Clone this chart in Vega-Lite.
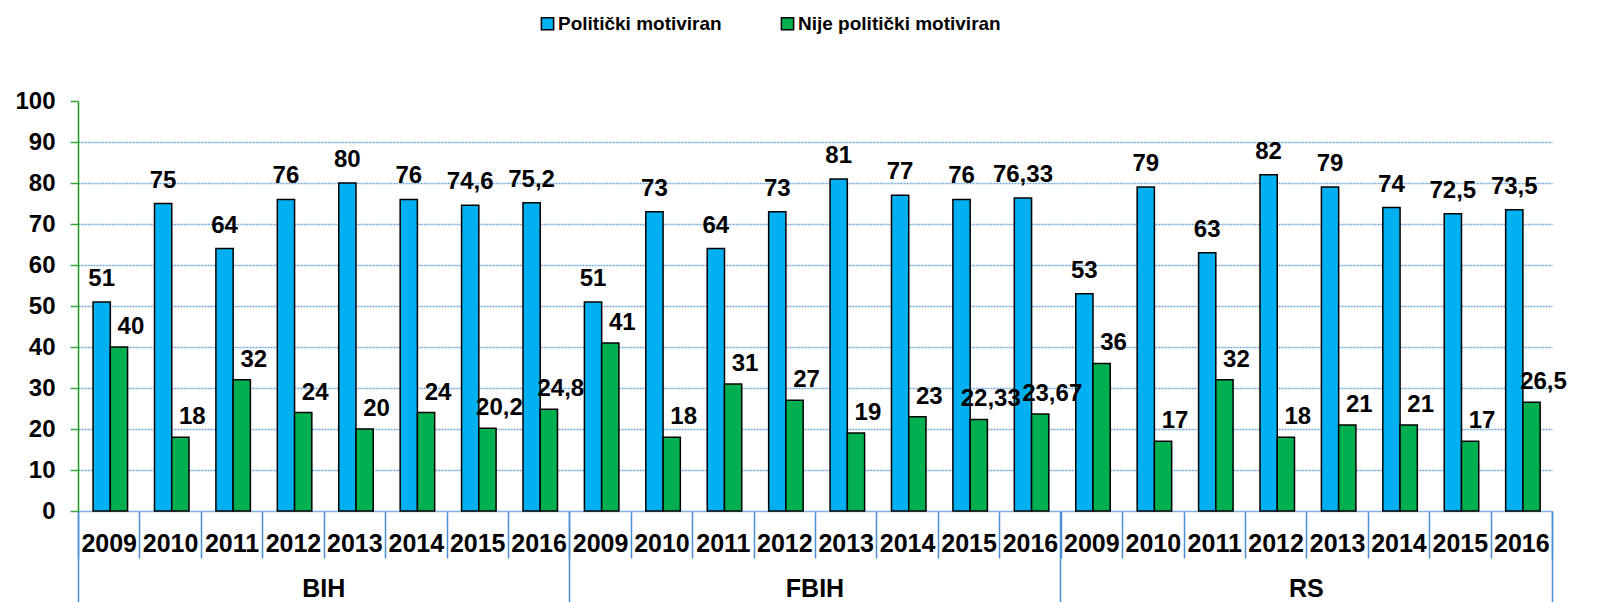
{
  "$schema": "https://vega.github.io/schema/vega-lite/v6.json",
  "width": 1474,
  "height": 410,
  "autosize": {"type": "none"},
  "padding": {"left": 78, "top": 101, "right": 68, "bottom": 91},
  "background": "white",
  "config": {
    "view": {"stroke": null},
    "font": "Liberation Sans",
    "locale": {"number": {"decimal": ",", "thousands": ".", "grouping": [3], "currency": ["", " €"]}}
  },
  "data": {"values": [
    {"cat": "BIH|2009", "series": "Politički motiviran", "value": 51},
    {"cat": "BIH|2009", "series": "Nije politički motiviran", "value": 40},
    {"cat": "BIH|2010", "series": "Politički motiviran", "value": 75},
    {"cat": "BIH|2010", "series": "Nije politički motiviran", "value": 18},
    {"cat": "BIH|2011", "series": "Politički motiviran", "value": 64},
    {"cat": "BIH|2011", "series": "Nije politički motiviran", "value": 32},
    {"cat": "BIH|2012", "series": "Politički motiviran", "value": 76},
    {"cat": "BIH|2012", "series": "Nije politički motiviran", "value": 24},
    {"cat": "BIH|2013", "series": "Politički motiviran", "value": 80},
    {"cat": "BIH|2013", "series": "Nije politički motiviran", "value": 20},
    {"cat": "BIH|2014", "series": "Politički motiviran", "value": 76},
    {"cat": "BIH|2014", "series": "Nije politički motiviran", "value": 24},
    {"cat": "BIH|2015", "series": "Politički motiviran", "value": 74.6},
    {"cat": "BIH|2015", "series": "Nije politički motiviran", "value": 20.2},
    {"cat": "BIH|2016", "series": "Politički motiviran", "value": 75.2},
    {"cat": "BIH|2016", "series": "Nije politički motiviran", "value": 24.8},
    {"cat": "FBIH|2009", "series": "Politički motiviran", "value": 51},
    {"cat": "FBIH|2009", "series": "Nije politički motiviran", "value": 41},
    {"cat": "FBIH|2010", "series": "Politički motiviran", "value": 73},
    {"cat": "FBIH|2010", "series": "Nije politički motiviran", "value": 18},
    {"cat": "FBIH|2011", "series": "Politički motiviran", "value": 64},
    {"cat": "FBIH|2011", "series": "Nije politički motiviran", "value": 31},
    {"cat": "FBIH|2012", "series": "Politički motiviran", "value": 73},
    {"cat": "FBIH|2012", "series": "Nije politički motiviran", "value": 27},
    {"cat": "FBIH|2013", "series": "Politički motiviran", "value": 81},
    {"cat": "FBIH|2013", "series": "Nije politički motiviran", "value": 19},
    {"cat": "FBIH|2014", "series": "Politički motiviran", "value": 77},
    {"cat": "FBIH|2014", "series": "Nije politički motiviran", "value": 23},
    {"cat": "FBIH|2015", "series": "Politički motiviran", "value": 76},
    {"cat": "FBIH|2015", "series": "Nije politički motiviran", "value": 22.33},
    {"cat": "FBIH|2016", "series": "Politički motiviran", "value": 76.33},
    {"cat": "FBIH|2016", "series": "Nije politički motiviran", "value": 23.67},
    {"cat": "RS|2009", "series": "Politički motiviran", "value": 53},
    {"cat": "RS|2009", "series": "Nije politički motiviran", "value": 36},
    {"cat": "RS|2010", "series": "Politički motiviran", "value": 79},
    {"cat": "RS|2010", "series": "Nije politički motiviran", "value": 17},
    {"cat": "RS|2011", "series": "Politički motiviran", "value": 63},
    {"cat": "RS|2011", "series": "Nije politički motiviran", "value": 32},
    {"cat": "RS|2012", "series": "Politički motiviran", "value": 82},
    {"cat": "RS|2012", "series": "Nije politički motiviran", "value": 18},
    {"cat": "RS|2013", "series": "Politički motiviran", "value": 79},
    {"cat": "RS|2013", "series": "Nije politički motiviran", "value": 21},
    {"cat": "RS|2014", "series": "Politički motiviran", "value": 74},
    {"cat": "RS|2014", "series": "Nije politički motiviran", "value": 21},
    {"cat": "RS|2015", "series": "Politički motiviran", "value": 72.5},
    {"cat": "RS|2015", "series": "Nije politički motiviran", "value": 17},
    {"cat": "RS|2016", "series": "Politički motiviran", "value": 73.5},
    {"cat": "RS|2016", "series": "Nije politički motiviran", "value": 26.5}
  ]},
  "resolve": {"axis": {"x": "independent", "y": "independent"}},
  "layer": [
    {
      "mark": {"type": "bar", "stroke": "black", "strokeWidth": 1.5},
      "encoding": {
        "x": {"field": "cat", "type": "nominal", "sort": null,
          "scale": {"paddingInner": 0, "paddingOuter": 0},
          "axis": {"orient": "bottom", "title": null, "labelExpr": "split(datum.value,'|')[1]",
            "labelAngle": 0, "labelFontSize": 25, "labelFontWeight": "bold", "labelColor": "black",
            "labelPadding": -27, "tickBand": "extent", "tickSize": 47, "tickColor": "#4A8FD6", "tickWidth": 1.5,
            "domainColor": "#7DB3E6", "domainWidth": 1.5, "grid": false, "labelOverlap": false, "labelBound": false}},
        "xOffset": {"field": "series", "type": "nominal", "sort": ["Politički motiviran", "Nije politički motiviran"],
          "scale": {"domain": ["Politički motiviran", "Nije politički motiviran"], "paddingInner": 0, "paddingOuter": 0.78, "align": 0.56}},
        "y": {"field": "value", "type": "quantitative", "title": null,
          "scale": {"domain": [0, 100], "nice": false},
          "axis": {"orient": "left", "values": [0, 10, 20, 30, 40, 50, 60, 70, 80, 90, 100], "tickSize": 8, "tickColor": "#3BA53B", "tickWidth": 1.5,
            "domainColor": "#1A9A1A", "domainWidth": 1.5, "labelFontSize": 24, "labelFontWeight": "bold", "labelColor": "black",
            "labelPadding": 15, "grid": true, "gridColor": "#6FA8DC", "gridDash": [2, 1], "gridWidth": 1.5,
            "gridOpacity": {"condition": {"test": "datum.value === 100 || datum.value === 0", "value": 0}, "value": 1}}},
        "color": {"field": "series", "type": "nominal",
          "scale": {"domain": ["Politički motiviran", "Nije politički motiviran"], "range": ["#00B0F0", "#00B050"]},
          "legend": {"title": null, "orient": "none", "legendX": 460, "legendY": -87, "direction": "horizontal",
            "symbolType": "square", "symbolSize": 150, "symbolStrokeColor": "black", "symbolStrokeWidth": 1.5,
            "labelFontSize": 19, "labelFontWeight": "bold", "labelColor": "black", "columnPadding": 56,
            "labelOffset": 1, "padding": 0, "symbolOpacity": 1, "labelLimit": 400}}
      }
    },
    {
      "transform": [{"filter": "datum.series === 'Politički motiviran'"}],
      "mark": {"type": "text", "baseline": "alphabetic", "dy": -16, "fontSize": 24, "fontWeight": "bold", "color": "black"},
      "encoding": {
        "x": {"field": "cat", "type": "nominal", "sort": null,
          "axis": {"orient": "bottom", "title": null, "values": ["BIH|2013", "FBIH|2013", "RS|2013"],
            "labelExpr": "split(datum.value,'|')[0]", "labelAngle": 0, "labelOffset": -30.7,
            "labelFontSize": 25, "labelFontWeight": "bold", "labelColor": "black", "labelPadding": 65,
            "ticks": false, "domain": false, "grid": false, "labelBound": false, "labelOverlap": false}},
        "xOffset": {"field": "series", "type": "nominal"},
        "y": {"field": "value", "type": "quantitative", "axis": null, "scale": {"domain": [0, 100], "nice": false}},
        "text": {"field": "value", "type": "quantitative", "format": "~g"}
      }
    },
    {
      "transform": [{"filter": "datum.series === 'Nije politički motiviran'"}],
      "mark": {"type": "text", "baseline": "alphabetic", "dx": 12, "dy": -13, "fontSize": 24, "fontWeight": "bold", "color": "black"},
      "encoding": {
        "x": {"field": "cat", "type": "nominal", "sort": null,
          "axis": {"orient": "bottom", "title": null, "values": ["BIH|2009", "FBIH|2009", "RS|2009"],
            "bandPosition": 0, "labels": false, "ticks": true, "tickSize": 91, "tickColor": "#4A8FD6", "tickWidth": 1.5,
            "domain": false, "grid": false}},
        "xOffset": {"field": "series", "type": "nominal"},
        "y": {"field": "value", "type": "quantitative", "axis": null, "scale": {"domain": [0, 100], "nice": false}},
        "text": {"field": "value", "type": "quantitative", "format": "~g"}
      }
    },
    {
      "mark": {"type": "bar", "opacity": 0},
      "encoding": {
        "x": {"field": "cat", "type": "nominal", "sort": null,
          "axis": {"orient": "bottom", "title": null, "values": ["RS|2016"],
            "bandPosition": 1, "labels": false, "ticks": true, "tickSize": 91, "tickColor": "#4A8FD6", "tickWidth": 1.5,
            "domain": false, "grid": false}}
      }
    }
  ]
}
